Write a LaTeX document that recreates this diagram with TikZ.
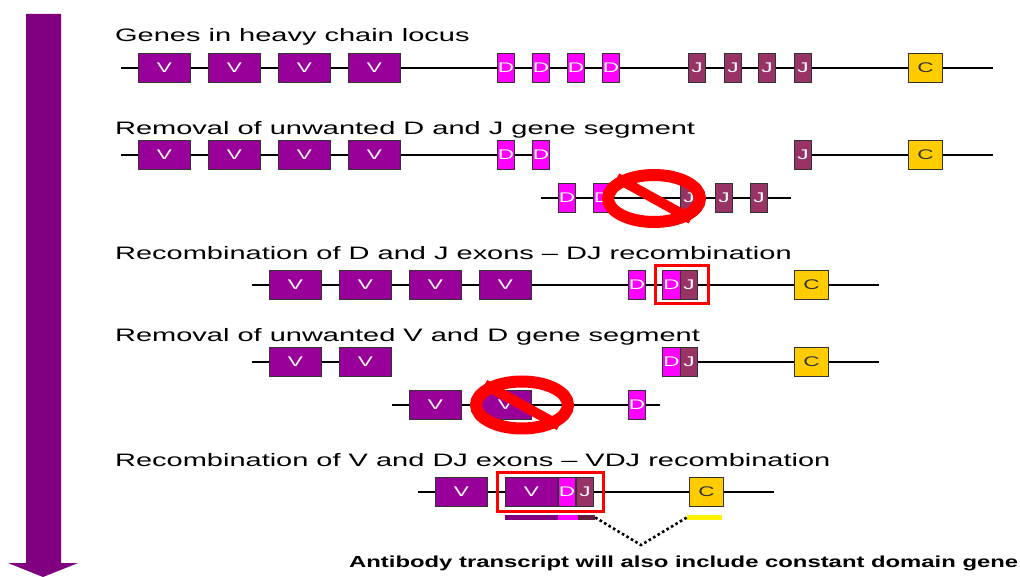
\documentclass[tikz,border=0pt]{standalone}
\usepackage{fontspec}
\setmainfont{Liberation Sans}
\newfontfamily\widefont[FakeStretch=1.61]{Liberation Sans}
\newfontfamily\notefont[FakeStretch=1.49]{Liberation Sans}
\usetikzlibrary{shapes.geometric}
\definecolor{vcol}{HTML}{990099}
\definecolor{dcol}{HTML}{FF00FF}
\definecolor{jcol}{HTML}{993366}
\definecolor{ccol}{HTML}{FFCC00}
\definecolor{arrowcol}{HTML}{800080}

\begin{document}
\begin{tikzpicture}[
  x=1pt, y=-1pt,
  seg/.style={draw=black!80, line width=1.3pt, inner sep=0pt, text=white,
    minimum height=28.5pt, font=\widefont\fontsize{14}{14}\selectfont},
  vseg/.style={seg, fill=vcol, minimum width=52.6pt},
  dseg/.style={seg, fill=dcol, minimum width=17.5pt},
  jseg/.style={seg, fill=jcol, minimum width=17.5pt},
  cseg/.style={seg, fill=ccol, text=black!80, minimum width=34.6pt},
  strand/.style={line width=2pt, black},
  head/.style={anchor=base west, inner sep=0pt, font=\widefont\fontsize{18}{18}\selectfont},
  redbox/.style={draw=red, line width=3pt, inner sep=0pt},
  nosign/.style={ellipse, draw=red, line width=12pt, inner sep=0pt, minimum width=92pt, minimum height=47pt},
  bar/.style={line width=10pt, red},
  tbar/.style={inner sep=0pt, minimum height=5pt}
]
\useasboundingbox (0,0) rectangle (1020,577);
\fill[arrowcol] (26,14) -- (61,14) -- (61,563) -- (78,563) -- (43,577) -- (8,563) -- (26,563) -- cycle;

% genes in heavy chain locus
\node[head] (title1) at (115,41.5) {Genes in heavy chain locus};
\coordinate (a1) at (121,68);
\coordinate (b1) at (993,68);
\node[vseg] (v11) at (164.5,68) {V};
\node[vseg] (v12) at (234.5,68) {V};
\node[vseg] (v13) at (304.5,68) {V};
\node[vseg] (v14) at (374.5,68) {V};
\node[dseg] (d11) at (506,68) {D};
\node[dseg] (d12) at (541,68) {D};
\node[dseg] (d13) at (576,68) {D};
\node[dseg] (d14) at (611,68) {D};
\node[jseg] (j11) at (697,68) {J};
\node[jseg] (j12) at (733,68) {J};
\node[jseg] (j13) at (767,68) {J};
\node[jseg] (j14) at (803,68) {J};
\node[cseg] (c1) at (925.5,68) {C};
\draw[strand] (a1) -- (v11) -- (v12) -- (v13) -- (v14) -- (d11) -- (d12) -- (d13) -- (d14) -- (j11) -- (j12) -- (j13) -- (j14) -- (c1) -- (b1);

% removal of D and J
\node[head] (title2) at (115,134.5) {Removal of unwanted D and J gene segment};
\coordinate (a2) at (121,155);
\coordinate (b2) at (993,155);
\node[vseg] (v21) at (164.5,155) {V};
\node[vseg] (v22) at (234.5,155) {V};
\node[vseg] (v23) at (304.5,155) {V};
\node[vseg] (v24) at (374.5,155) {V};
\node[dseg] (d21) at (506,155) {D};
\node[dseg] (d22) at (541,155) {D};
\node[jseg] (j21) at (803,155) {J};
\node[cseg] (c2) at (925.5,155) {C};
\draw[strand] (a2) -- (v21) -- (v22) -- (v23) -- (v24) -- (d21) -- (d22);
\draw[strand] (j21) -- (c2) -- (b2);

\coordinate (a2x) at (541,198);
\coordinate (b2x) at (791,198);
\node[dseg] (d2x1) at (567,198) {D};
\node[dseg] (d2x2) at (602,198) {D};
\node[jseg] (j2x1) at (689,198) {J};
\node[jseg] (j2x2) at (724,198) {J};
\node[jseg] (j2x3) at (759,198) {J};
\draw[strand] (a2x) -- (d2x1) -- (d2x2) -- (j2x1) -- (j2x2) -- (j2x3) -- (b2x);
\node[nosign] (no1) at (654,198.5) {};
\draw[bar] (no1.151) -- (no1.-29);

% DJ recombination
\node[head] (title3) at (115,259.5) {Recombination of D and J exons – DJ recombination};
\coordinate (a3) at (252,285);
\coordinate (b3) at (879,285);
\node[vseg] (v31) at (295.5,285) {V};
\node[vseg] (v32) at (365.5,285) {V};
\node[vseg] (v33) at (435.5,285) {V};
\node[vseg] (v34) at (505.5,285) {V};
\node[dseg] (d31) at (637,285) {D};
\node[dseg] (d32) at (671.5,285) {D};
\node[jseg] (j31) at (689,285) {J};
\node[cseg] (c3) at (811.5,285) {C};
\draw[strand] (a3) -- (v31) -- (v32) -- (v33) -- (v34) -- (d31) -- (d32);
\draw[strand] (j31) -- (c3) -- (b3);
\node[redbox, minimum width=53pt, minimum height=38pt] (box1) at (682,284.5) {};

% removal of V and D
\node[head] (title4) at (115,341.5) {Removal of unwanted V and D gene segment};
\coordinate (a4) at (252,362);
\coordinate (b4) at (879,362);
\node[vseg] (v41) at (295.5,362) {V};
\node[vseg] (v42) at (365.5,362) {V};
\node[dseg] (d41) at (671.5,362) {D};
\node[jseg] (j41) at (689,362) {J};
\node[cseg] (c4) at (811.5,362) {C};
\draw[strand] (a4) -- (v41) -- (v42);
\draw[strand] (j41) -- (c4) -- (b4);

\coordinate (a4x) at (392,405);
\coordinate (b4x) at (660,405);
\node[vseg] (v4x1) at (435.5,405) {V};
\node[vseg] (v4x2) at (505.5,405) {V};
\node[dseg] (d4x1) at (637,405) {D};
\draw[strand] (a4x) -- (v4x1) -- (v4x2) -- (d4x1) -- (b4x);
\node[nosign] (no2) at (522,405) {};
\draw[bar] (no2.151) -- (no2.-29);

% VDJ recombination
\node[head] (title5) at (115,466.5) {Recombination of V and DJ exons – VDJ recombination};
\coordinate (a5) at (418,492);
\coordinate (b5) at (774,492);
\node[vseg] (v51) at (461.5,492) {V};
\node[vseg] (v52) at (531.5,492) {V};
\node[dseg] (d51) at (567,492) {D};
\node[jseg] (j51) at (585,492) {J};
\node[cseg] (c5) at (706.5,492) {C};
\draw[strand] (a5) -- (v51) -- (v52);
\draw[strand] (j51) -- (c5) -- (b5);
\node[redbox, minimum width=106pt, minimum height=39pt] (box2) at (550.5,491.5) {};

\node[tbar, fill=arrowcol, minimum width=53pt] (tv) at (531.5,517.5) {};
\node[tbar, fill=dcol, minimum width=20pt] (td) at (568,517.5) {};
\node[tbar, fill=jcol!60!black, minimum width=17pt] (tj) at (586.5,517.5) {};
\node[tbar, fill=yellow, minimum width=35pt] (tc) at (704.5,517.5) {};
\coordinate (apex) at (641,545);
\draw[line width=2.6pt, dash pattern=on 2.6pt off 2.6pt] (tj.east) -- (apex) -- (tc.west);

\node[head, font=\notefont\bfseries\fontsize{16}{16}\selectfont] (note) at (349,567) {Antibody transcript will also include constant domain gene};
\end{tikzpicture}
\end{document}
